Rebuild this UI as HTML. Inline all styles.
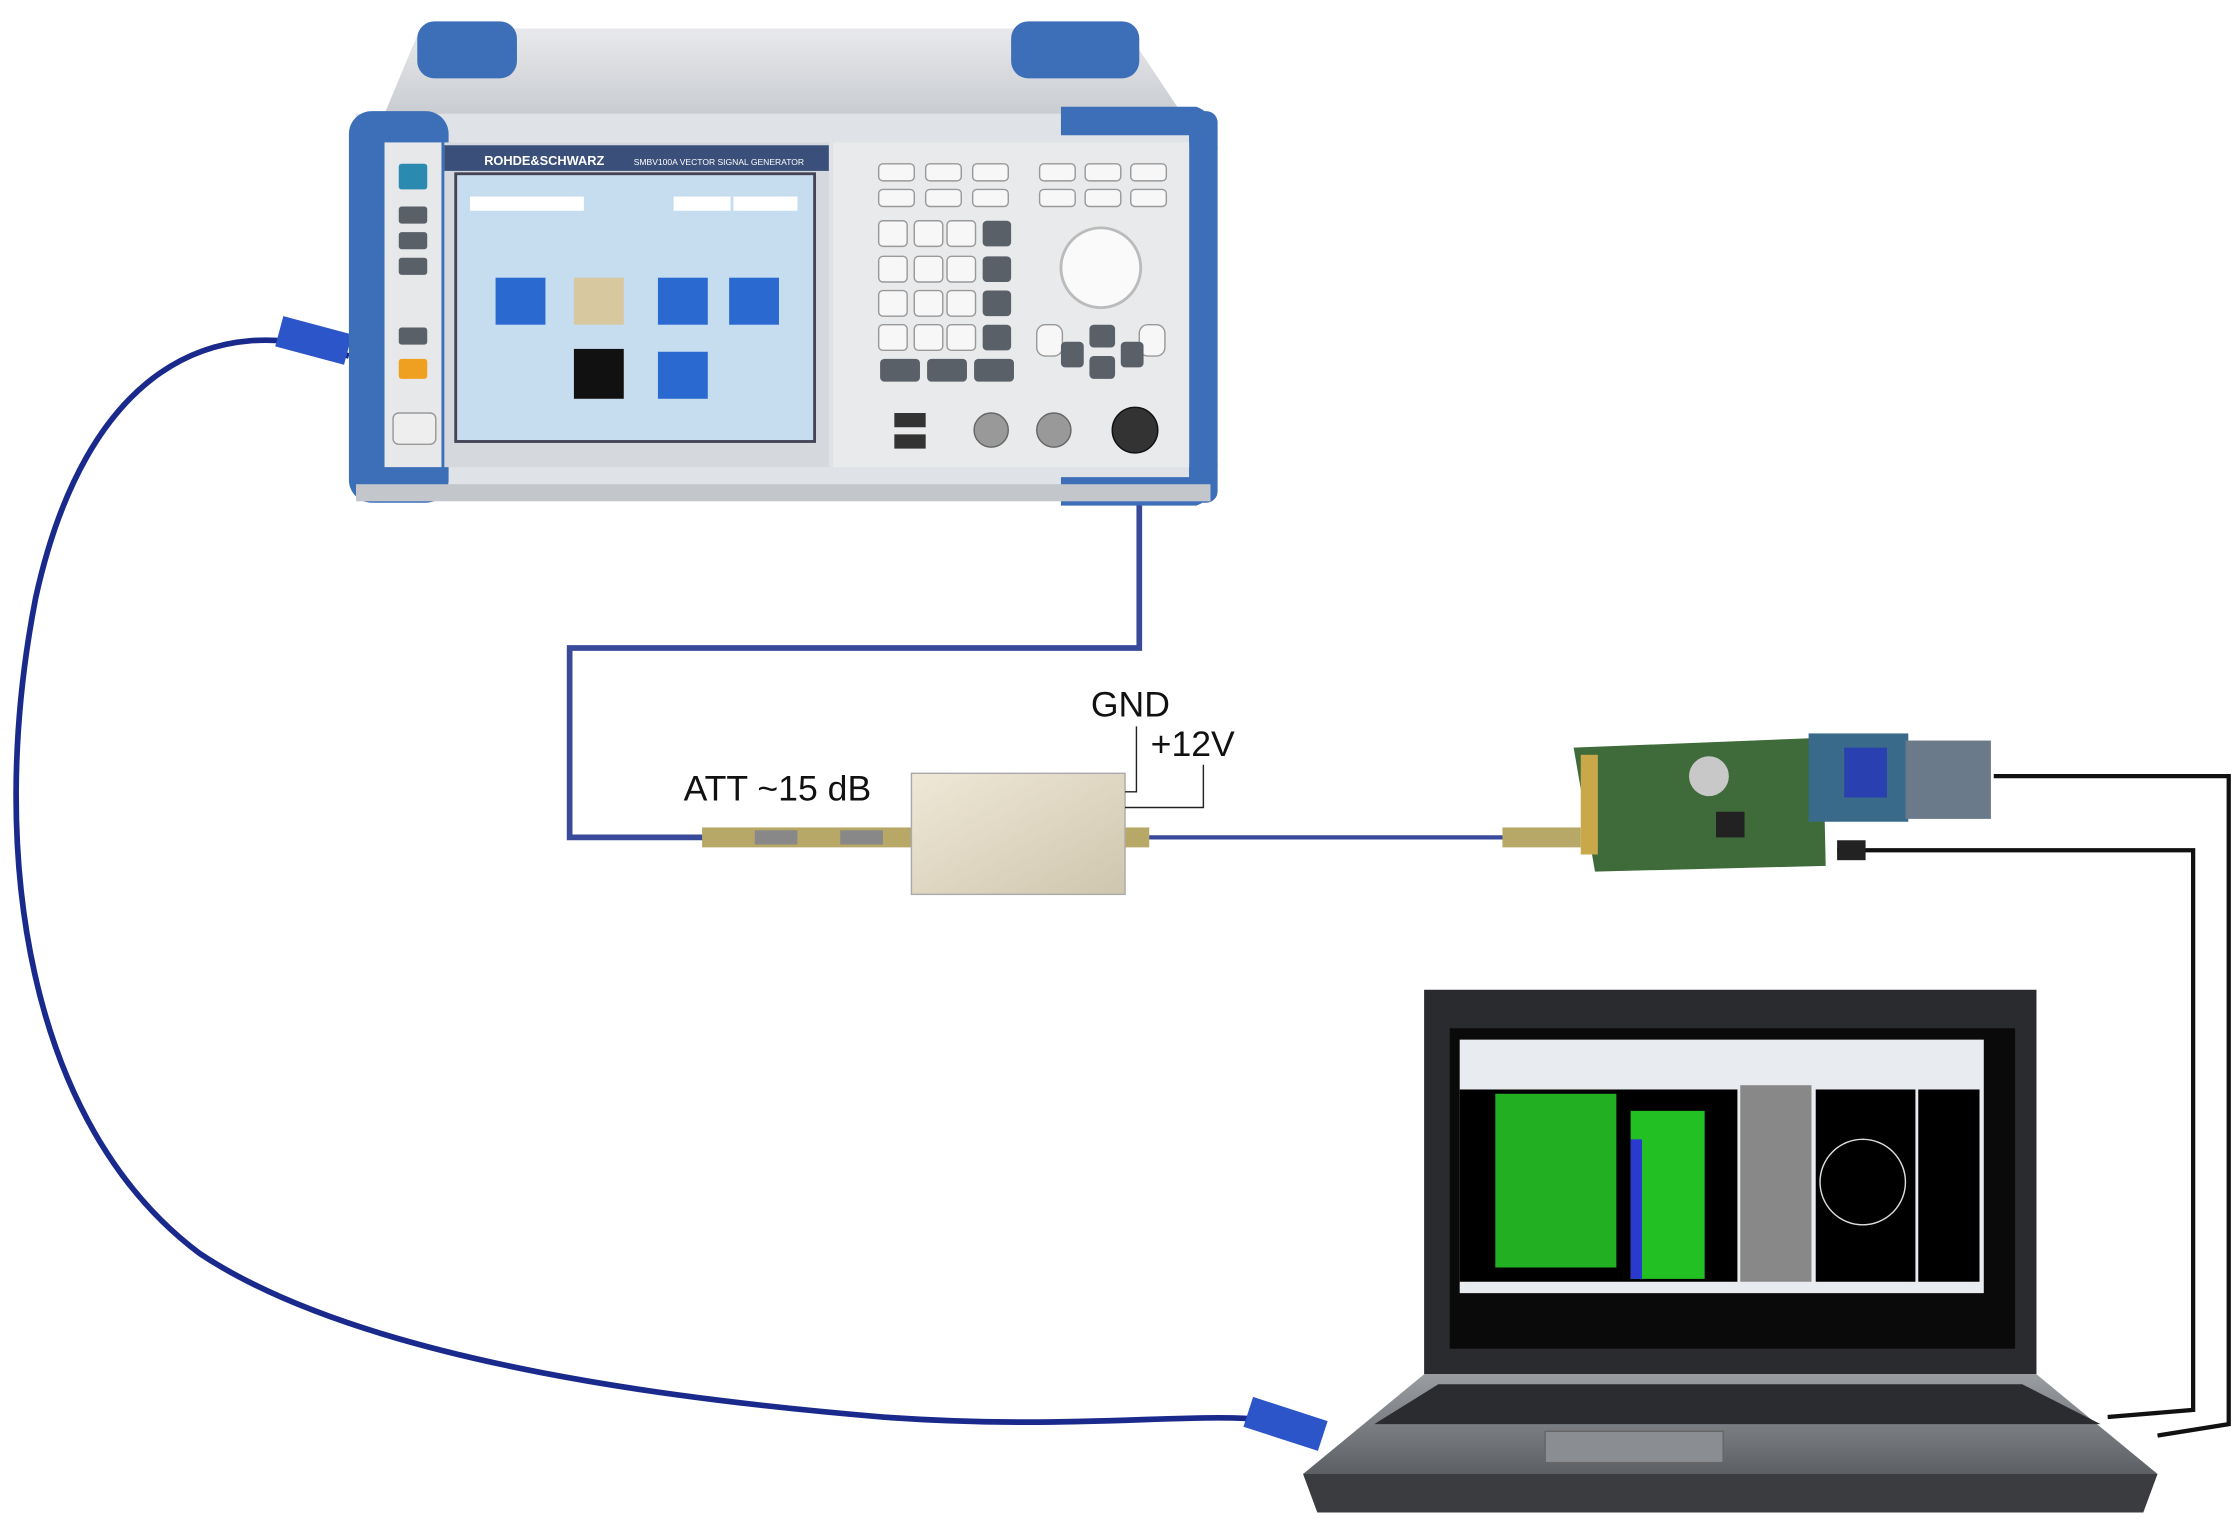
<!DOCTYPE html>
<html><head><meta charset="utf-8"><style>
html,body{margin:0;padding:0;background:#fff;width:2233px;height:1521px;overflow:hidden}
svg{display:block}
text{font-family:"Liberation Sans",sans-serif}
</style></head><body>
<svg width="2233" height="1521" viewBox="0 0 1568 1068" preserveAspectRatio="none" xmlns="http://www.w3.org/2000/svg">
<defs>
<linearGradient id="top" x1="0" y1="0" x2="0" y2="1"><stop offset="0" stop-color="#e8e9ec"/><stop offset="1" stop-color="#c9ccd1"/></linearGradient>
<linearGradient id="att" x1="0" y1="0" x2="1" y2="1"><stop offset="0" stop-color="#efe8d6"/><stop offset="1" stop-color="#cfc6ae"/></linearGradient>
<linearGradient id="base" x1="0" y1="0" x2="0" y2="1"><stop offset="0" stop-color="#9a9da2"/><stop offset="1" stop-color="#5c5f64"/></linearGradient>
</defs>
<path d="M245 250 C150 215 60 260 25 420 C-10 600 20 790 140 880 C260 960 500 985 620 995 C760 1005 840 990 900 998" fill="none" stroke="#1a2a8c" stroke-width="4"/>
<rect x="195" y="228" width="50" height="22" fill="#2b55c8" transform="rotate(15 220 240)"/>
<rect x="875" y="988" width="55" height="22" fill="#2b55c8" transform="rotate(18 900 1000)"/>
<path d="M800 320 L800 455 L400 455 L400 588 L495 588" fill="none" stroke="#3a4a9a" stroke-width="4"/>
<path d="M790 588 L1058 588" fill="none" stroke="#3a4a9a" stroke-width="3"/>
<rect x="493" y="581" width="150" height="14" fill="#b8a868"/>
<rect x="530" y="583" width="30" height="10" fill="#888"/><rect x="590" y="583" width="30" height="10" fill="#888"/>
<rect x="785" y="581" width="22" height="14" fill="#b8a868"/>
<rect x="1055" y="581" width="55" height="14" fill="#b8a868"/>
<path d="M295 20 L790 20 L830 80 L270 80 Z" fill="url(#top)"/>
<rect x="293" y="15" width="70" height="40" rx="12" fill="#3d6fb8"/>
<rect x="710" y="15" width="90" height="40" rx="12" fill="#3d6fb8"/>
<rect x="250" y="80" width="600" height="265" fill="#dfe2e6"/>
<rect x="245" y="78" width="70" height="275" rx="16" fill="#3d6fb8"/>
<rect x="835" y="78" width="20" height="275" rx="8" fill="#3d6fb8"/>
<path d="M745 75 L840 75 Q855 80 855 105 L835 105 L835 95 L745 95 Z" fill="#3d6fb8"/>
<path d="M745 335 L835 335 L835 325 L855 325 Q855 350 840 355 L745 355 Z" fill="#3d6fb8"/>
<rect x="270" y="100" width="40" height="228" fill="#e6e8ea"/>
<rect x="312" y="100" width="270" height="228" fill="#d5d9de"/>
<rect x="312" y="102" width="270" height="18" fill="#3a4f7a"/>
<text x="340" y="116" font-size="9" fill="#fff" font-weight="bold">ROHDE&amp;SCHWARZ</text>
<text x="445" y="116" font-size="6" fill="#fff">SMBV100A VECTOR SIGNAL GENERATOR</text>
<rect x="320" y="122" width="252" height="188" fill="#c6dcef" stroke="#445" stroke-width="2"/>
<rect x="348" y="195" width="35" height="33" fill="#2a6ad0"/><rect x="403" y="195" width="35" height="33" fill="#d8c8a0"/>
<rect x="462" y="195" width="35" height="33" fill="#2a6ad0"/><rect x="512" y="195" width="35" height="33" fill="#2a6ad0"/>
<rect x="462" y="247" width="35" height="33" fill="#2a6ad0"/><rect x="403" y="245" width="35" height="35" fill="#111"/>
<rect x="330" y="138" width="80" height="10" fill="#fff"/><rect x="473" y="138" width="40" height="10" fill="#fff"/><rect x="515" y="138" width="45" height="10" fill="#fff"/>
<rect x="585" y="100" width="250" height="228" fill="#e8eaec"/>
<g fill="#f7f7f7" stroke="#999">
<rect x="617" y="115" width="25" height="12" rx="3"/><rect x="650" y="115" width="25" height="12" rx="3"/><rect x="683" y="115" width="25" height="12" rx="3"/>
<rect x="617" y="133" width="25" height="12" rx="3"/><rect x="650" y="133" width="25" height="12" rx="3"/><rect x="683" y="133" width="25" height="12" rx="3"/>
<rect x="617" y="155" width="20" height="18" rx="3"/><rect x="642" y="155" width="20" height="18" rx="3"/><rect x="665" y="155" width="20" height="18" rx="3"/>
<rect x="617" y="180" width="20" height="18" rx="3"/><rect x="642" y="180" width="20" height="18" rx="3"/><rect x="665" y="180" width="20" height="18" rx="3"/>
<rect x="617" y="204" width="20" height="18" rx="3"/><rect x="642" y="204" width="20" height="18" rx="3"/><rect x="665" y="204" width="20" height="18" rx="3"/>
<rect x="617" y="228" width="20" height="18" rx="3"/><rect x="642" y="228" width="20" height="18" rx="3"/><rect x="665" y="228" width="20" height="18" rx="3"/>
<rect x="730" y="115" width="25" height="12" rx="3"/><rect x="762" y="115" width="25" height="12" rx="3"/><rect x="794" y="115" width="25" height="12" rx="3"/>
<rect x="730" y="133" width="25" height="12" rx="3"/><rect x="762" y="133" width="25" height="12" rx="3"/><rect x="794" y="133" width="25" height="12" rx="3"/>
<rect x="728" y="228" width="18" height="22" rx="6"/><rect x="800" y="228" width="18" height="22" rx="6"/>
</g>
<g fill="#5a6068"><rect x="690" y="155" width="20" height="18" rx="3"/><rect x="690" y="180" width="20" height="18" rx="3"/><rect x="690" y="204" width="20" height="18" rx="3"/><rect x="690" y="228" width="20" height="18" rx="3"/>
<rect x="618" y="252" width="28" height="16" rx="3"/><rect x="651" y="252" width="28" height="16" rx="3"/><rect x="684" y="252" width="28" height="16" rx="3"/>
<rect x="280" y="145" width="20" height="12" rx="2"/><rect x="280" y="163" width="20" height="12" rx="2"/><rect x="280" y="181" width="20" height="12" rx="2"/><rect x="280" y="230" width="20" height="12" rx="2"/>
<rect x="765" y="228" width="18" height="16" rx="3"/><rect x="765" y="250" width="18" height="16" rx="3"/><rect x="745" y="240" width="16" height="18" rx="3"/><rect x="787" y="240" width="16" height="18" rx="3"/></g>
<rect x="280" y="115" width="20" height="18" rx="2" fill="#2a8ab0"/>
<rect x="280" y="252" width="20" height="14" rx="2" fill="#f0a020"/>
<rect x="276" y="290" width="30" height="22" rx="4" fill="#eee" stroke="#999"/>
<circle cx="773" cy="188" r="28" fill="#fafafa" stroke="#bbb" stroke-width="2"/>
<circle cx="696" cy="302" r="12" fill="#999" stroke="#666"/><circle cx="740" cy="302" r="12" fill="#999" stroke="#666"/>
<circle cx="797" cy="302" r="16" fill="#333" stroke="#111"/>
<rect x="628" y="290" width="22" height="10" fill="#333"/><rect x="628" y="305" width="22" height="10" fill="#333"/>
<rect x="250" y="340" width="600" height="12" fill="#c3c6ca"/>
<rect x="640" y="543" width="150" height="85" fill="url(#att)" stroke="#aaa"/>
<text x="480" y="562" font-size="25" fill="#111">ATT ~15 dB</text>
<text x="766" y="503" font-size="25" fill="#111">GND</text>
<text x="808" y="531" font-size="25" fill="#111">+12V</text>
<path d="M798 510 L798 556 L790 556" fill="none" stroke="#222" stroke-width="1"/>
<path d="M845 537 L845 567 L790 567" fill="none" stroke="#222" stroke-width="1"/>
<path d="M1105 525 L1280 518 L1282 608 L1120 612 Z" fill="#3f6a3a"/>
<circle cx="1200" cy="545" r="14" fill="#c8c8c8"/>
<rect x="1205" y="570" width="20" height="18" fill="#222"/>
<rect x="1110" y="530" width="12" height="70" fill="#c9a84a"/>
<rect x="1270" y="515" width="70" height="62" fill="#3a6a8a"/>
<rect x="1295" y="525" width="30" height="35" fill="#2840b0"/>
<rect x="1338" y="520" width="60" height="55" fill="#6a7a8a"/>
<path d="M1400 545 L1565 545 L1565 1000 L1515 1008" fill="none" stroke="#111" stroke-width="3"/>
<path d="M1290 597 L1540 597 L1540 990 L1480 995" fill="none" stroke="#111" stroke-width="3"/>
<rect x="1290" y="590" width="20" height="14" fill="#222"/>
<path d="M1000 695 L1430 695 L1430 965 L1000 965 Z" fill="#2a2b2e"/>
<rect x="1018" y="722" width="397" height="225" fill="#0a0a0a"/>
<rect x="1025" y="730" width="368" height="178" fill="#e8ebef"/>
<rect x="1025" y="765" width="115" height="135" fill="#000"/>
<rect x="1050" y="768" width="85" height="122" fill="#22b022"/>
<rect x="1140" y="765" width="80" height="135" fill="#000"/>
<rect x="1145" y="780" width="52" height="118" fill="#22c022"/>
<rect x="1145" y="800" width="8" height="98" fill="#2a3ad0"/>
<rect x="1222" y="762" width="50" height="138" fill="#888"/>
<rect x="1275" y="765" width="70" height="135" fill="#000"/>
<circle cx="1308" cy="830" r="30" fill="none" stroke="#ddd"/>
<rect x="1347" y="765" width="43" height="135" fill="#000"/>
<path d="M1000 965 L1430 965 L1515 1035 L915 1035 Z" fill="url(#base)"/>
<path d="M1010 972 L1420 972 L1475 1000 L965 1000 Z" fill="#2a2c30"/>
<rect x="1085" y="1005" width="125" height="22" fill="#8a8d92" stroke="#666"/>
<path d="M915 1035 L1515 1035 L1505 1062 L925 1062 Z" fill="#3a3c40"/>
</svg>
</body></html>
